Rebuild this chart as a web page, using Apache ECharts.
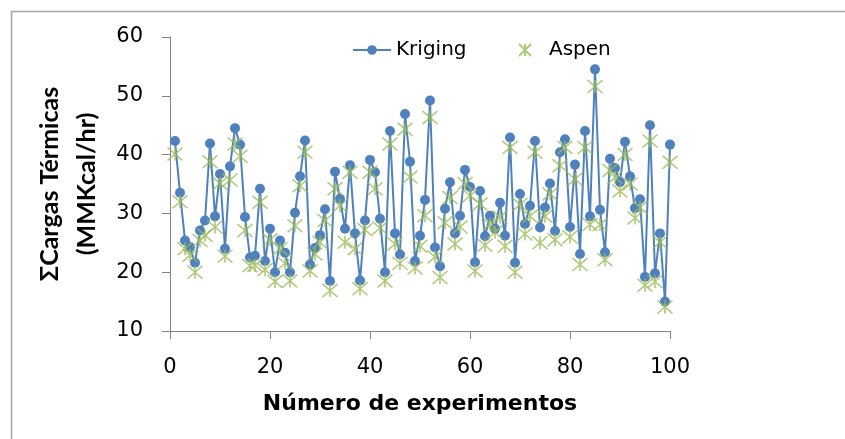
<!DOCTYPE html>
<html><head><meta charset="utf-8">
<script src="https://cdn.jsdelivr.net/npm/echarts@6/dist/echarts.min.js"></script>
<style>html,body{margin:0;padding:0;background:#fff}#c{width:845px;height:439px}</style>
</head><body><div id="c"></div>
<script>
var experiments = [];
for (var i = 1; i <= 100; i++) experiments.push(i);
var kriging = [42.3,33.5,25.4,24.3,21.6,27.1,28.8,41.9,29.5,36.7,
24.0,38.0,44.5,41.7,29.4,22.5,22.8,34.2,21.9,27.4,
20.0,25.4,23.3,20.0,30.1,36.3,42.4,21.3,24.1,26.3,
30.7,18.5,37.1,32.5,27.4,38.2,26.6,18.6,28.8,39.1,
37.0,29.1,20.0,44.0,26.6,23.0,46.9,38.8,21.9,26.2,
32.3,49.2,24.2,21.0,30.8,35.3,26.6,29.6,37.4,34.5,
21.7,33.8,26.1,29.6,27.4,31.8,26.2,42.9,21.6,33.3,
28.2,31.3,42.3,27.6,31.0,35.1,27.0,40.4,42.6,27.7,
38.3,23.1,44.0,29.5,54.5,30.6,23.4,39.3,37.7,35.3,
42.2,36.3,30.9,32.4,19.2,45.0,19.8,26.6,15.0,41.7];
var aspen = [40.1,32.0,24.0,22.9,20.0,25.4,26.3,38.8,27.7,35.1,
22.7,35.7,41.8,39.7,27.1,21.1,21.2,31.9,20.4,25.5,
18.4,24.0,21.5,18.5,27.9,34.7,40.4,20.2,23.1,25.1,
28.8,16.9,34.2,31.3,25.1,37.0,24.0,17.2,27.2,37.0,
34.2,27.5,18.5,41.8,24.8,21.5,44.3,36.2,20.7,24.4,
29.6,46.3,22.6,19.1,28.4,32.7,24.8,27.7,35.1,33.0,
20.2,31.6,24.6,28.2,26.8,29.4,24.4,41.2,20.0,31.5,
26.5,29.5,40.4,25.0,29.5,33.3,25.5,38.1,41.2,26.0,
35.8,21.3,41.2,28.1,51.6,28.1,22.1,37.3,36.1,33.8,
40.0,35.0,29.2,31.0,17.8,42.3,18.4,25.1,14.1,38.7];
var yTitle = 'ΣCargas Térmicas\n(MMKcal/hr)';
var xTitle = 'Número de experimentos';

var kData = experiments.map(function(x, i){ return [x, kriging[i]]; });
var aData = experiments.map(function(x, i){ return [x, aspen[i]]; });

var wide = '"DejaVu Sans", sans-serif';
var axisColor = '#868686';
var chart = echarts.init(document.getElementById('c'), null, {renderer: 'canvas'});
chart.setOption({
  animation: false,
  backgroundColor: '#fff',
  graphic: [{
    type: 'rect', left: 9, top: 9,
    shape: {width: 900, height: 500},
    style: {fill: 'none', stroke: '#a6a6a6', lineWidth: 1.5}, z: 0
  }],
  legend: {
    top: 35, left: 347, itemGap: 50, itemWidth: 38, itemHeight: 12,
    textStyle: {fontFamily: wide, fontSize: 20, color: '#000', padding: [0,0,0,0]},
    data: [{name: 'Kriging'}, {name: 'Aspen'}]
  },
  grid: {left: 170, top: 37, width: 500, height: 294, containLabel: false},
  xAxis: {
    type: 'value', min: 0, max: 100, interval: 20,
    name: xTitle, nameLocation: 'middle', nameGap: 62,
    nameTextStyle: {fontFamily: wide, fontSize: 22, fontWeight: 'bold', color: '#000'},
    axisLine: {show: true, lineStyle: {color: axisColor, width: 1}},
    axisTick: {show: true, length: 8, inside: false, lineStyle: {color: axisColor}},
    axisLabel: {fontFamily: wide, fontSize: 21, color: '#000', margin: 26},
    splitLine: {show: false}
  },
  yAxis: {
    type: 'value', min: 10, max: 60, interval: 10,
    name: yTitle, nameLocation: 'middle', nameGap: 62, nameRotate: 90,
    nameTextStyle: {fontFamily: 'Lato, sans-serif', fontSize: 25, fontWeight: 'bold', color: '#000', lineHeight: 37, align: 'center'},
    axisLine: {show: true, lineStyle: {color: axisColor, width: 1}},
    axisTick: {show: true, length: 8, inside: false, lineStyle: {color: axisColor}},
    axisLabel: {fontFamily: wide, fontSize: 21, color: '#000', margin: 27},
    splitLine: {show: false}
  },
  series: [{
    name: 'Kriging', type: 'line', data: kData,
    symbol: 'circle', symbolSize: 10,
    lineStyle: {color: '#4F81BD', width: 2},
    itemStyle: {color: '#4F81BD'}, z: 2
  }, {
    name: 'Aspen', type: 'scatter', data: aData,
    symbol: 'path://M0,0L10,10M10,0L0,10M5,0L5,10', symbolSize: [15, 13],
    itemStyle: {color: 'none', borderColor: '#9BBB59', borderWidth: 1.5}, z: 3
  }]
});
</script></body></html>
